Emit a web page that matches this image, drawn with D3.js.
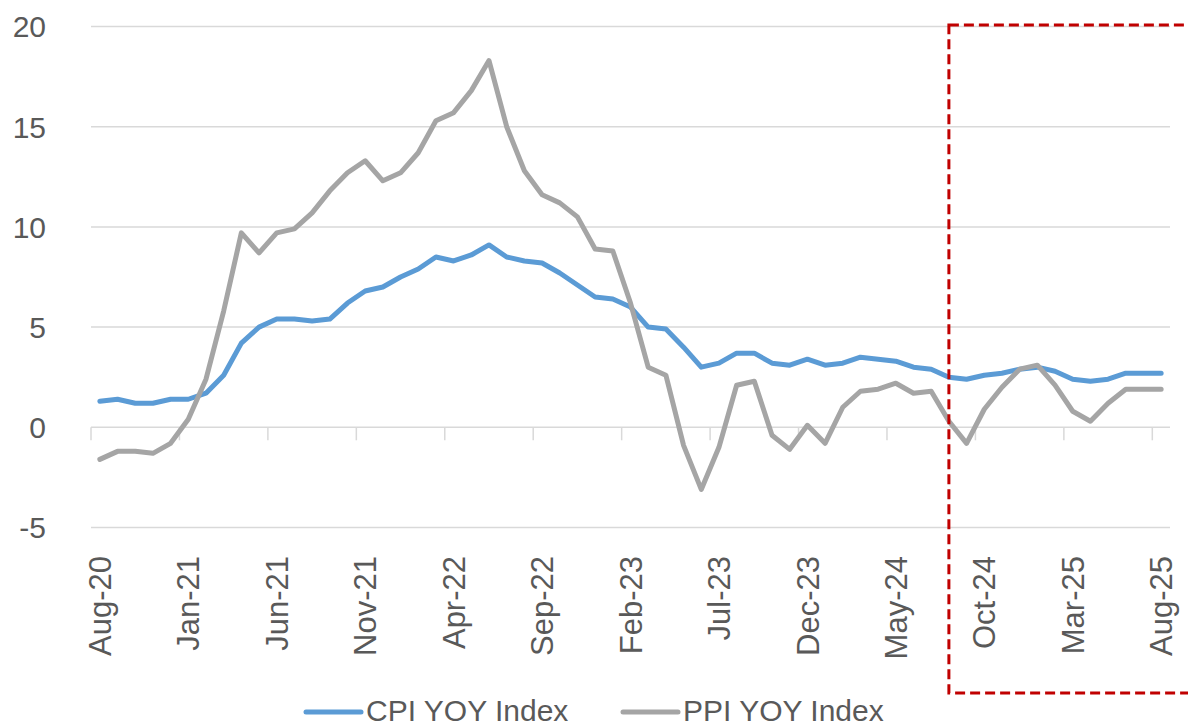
<!DOCTYPE html>
<html>
<head>
<meta charset="utf-8">
<script src="https://cdn.jsdelivr.net/npm/d3@7"></script>
<style>
  body { margin: 0; background: #fff; }
  svg text { font-family: "Liberation Sans", Arial, sans-serif; fill: #595959; }
</style>
</head>
<body>
<svg id="chart" width="1188" height="727"></svg>
<script>
/* data, Aug-20 .. Aug-25 */
var monthNames = ["Jan","Feb","Mar","Apr","May","Jun","Jul","Aug","Sep","Oct","Nov","Dec"];
var months = [];
for (var k = 0; k < 61; k++) {
  var m = (7 + k) % 12, yr = 20 + Math.floor((7 + k) / 12);
  months.push(monthNames[m] + "-" + yr);
}

var cpi = [1.3,1.4,1.2,1.2,1.4,1.4,1.7,2.6,4.2,5.0,5.4,5.4,5.3,5.4,6.2,6.8,7.0,7.5,7.9,8.5,
           8.3,8.6,9.1,8.5,8.3,8.2,7.7,7.1,6.5,6.4,6.0,5.0,4.9,4.0,3.0,3.2,3.7,3.7,3.2,3.1,
           3.4,3.1,3.2,3.5,3.4,3.3,3.0,2.9,2.5,2.4,2.6,2.7,2.9,3.0,2.8,2.4,2.3,2.4,2.7,2.7,2.7];

var ppi = [-1.6,-1.2,-1.2,-1.3,-0.8,0.4,2.4,5.8,9.7,8.7,9.7,9.9,10.7,11.8,12.7,13.3,12.3,12.7,13.7,15.3,
           15.7,16.8,18.3,15.0,12.8,11.6,11.2,10.5,8.9,8.8,6.2,3.0,2.6,-0.9,-3.1,-1.0,2.1,2.3,-0.4,-1.1,
           0.1,-0.8,1.0,1.8,1.9,2.2,1.7,1.8,0.3,-0.8,0.9,2.0,2.9,3.1,2.1,0.8,0.3,1.2,1.9,1.9,1.9];

var yTicks = [-5, 0, 5, 10, 15, 20];
var seriesNames = ["CPI YOY Index", "PPI YOY Index"];
var seriesColors = ["#5B9BD5", "#A5A5A5"];
var highlightFrom = "Aug-24";

var svg = d3.select("#chart");

// scales
var x = d3.scaleBand().domain(months).range([91, 1170]);
var y = d3.scaleLinear().domain([-5, 20]).range([527.5, 26.5]);
var cx = function(i) { return x(months[i]) + x.bandwidth() / 2; };

// gridlines
svg.append("g")
  .selectAll("line")
  .data(yTicks)
  .enter()
  .append("line")
    .attr("x1", 91).attr("x2", 1170)
    .attr("y1", function(d) { return y(d); })
    .attr("y2", function(d) { return y(d); })
    .style("stroke", "#D9D9D9")
    .style("stroke-width", 1.5);

// y labels
svg.append("g")
  .selectAll("text")
  .data(yTicks)
  .enter()
  .append("text")
    .attr("x", 46)
    .attr("y", function(d) { return y(d); })
    .attr("dy", "0.36em")
    .attr("text-anchor", "end")
    .style("font-size", "30px")
    .text(function(d) { return d; });

// tick marks between categories, every 5 months
var tickIdx = d3.range(0, 61, 5);
svg.append("g")
  .selectAll("line")
  .data(tickIdx)
  .enter()
  .append("line")
    .attr("x1", function(d) { return x(months[d]); })
    .attr("x2", function(d) { return x(months[d]); })
    .attr("y1", y(0))
    .attr("y2", y(0) + 13)
    .style("stroke", "#D9D9D9")
    .style("stroke-width", 1.5);

// x labels (rotated)
svg.append("g")
  .selectAll("text")
  .data(tickIdx)
  .enter()
  .append("text")
    .attr("transform", function(d) { return "translate(" + cx(d) + ",556) rotate(-90)"; })
    .attr("dy", "0.36em")
    .attr("text-anchor", "end")
    .style("font-size", "31px")
    .text(function(d) { return months[d]; });

// lines
var line = d3.line()
  .x(function(d, i) { return cx(i); })
  .y(function(d) { return y(d); });

[cpi, ppi].forEach(function(s, j) {
  svg.append("path")
    .datum(s)
    .attr("d", line)
    .style("fill", "none")
    .style("stroke", seriesColors[j])
    .style("stroke-width", 5)
    .style("stroke-linejoin", "round")
    .style("stroke-linecap", "round");
});

// highlight box
var bx = cx(months.indexOf(highlightFrom));
svg.append("rect")
  .attr("x", bx)
  .attr("y", y(20) - 1.5)
  .attr("width", 1188 - bx + 20)
  .attr("height", 693 - (y(20) - 1.5))
  .style("fill", "none")
  .style("stroke", "#C00000")
  .style("stroke-width", 3)
  .style("stroke-dasharray", "10,5");

// legend (nudged up a little so the text box stays inside the picture)
var legendX = [306, 623];
seriesNames.forEach(function(n, j) {
  var g = svg.append("g").attr("transform", "translate(" + legendX[j] + ",712)");
  g.append("line")
    .attr("x1", 0).attr("x2", 55)
    .style("stroke", seriesColors[j])
    .style("stroke-width", 5)
    .style("stroke-linecap", "round");
  g.append("text")
    .attr("x", 60)
    .attr("y", 9)
    .style("font-size", "30px")
    .text(n);
});
</script>
</body>
</html>
